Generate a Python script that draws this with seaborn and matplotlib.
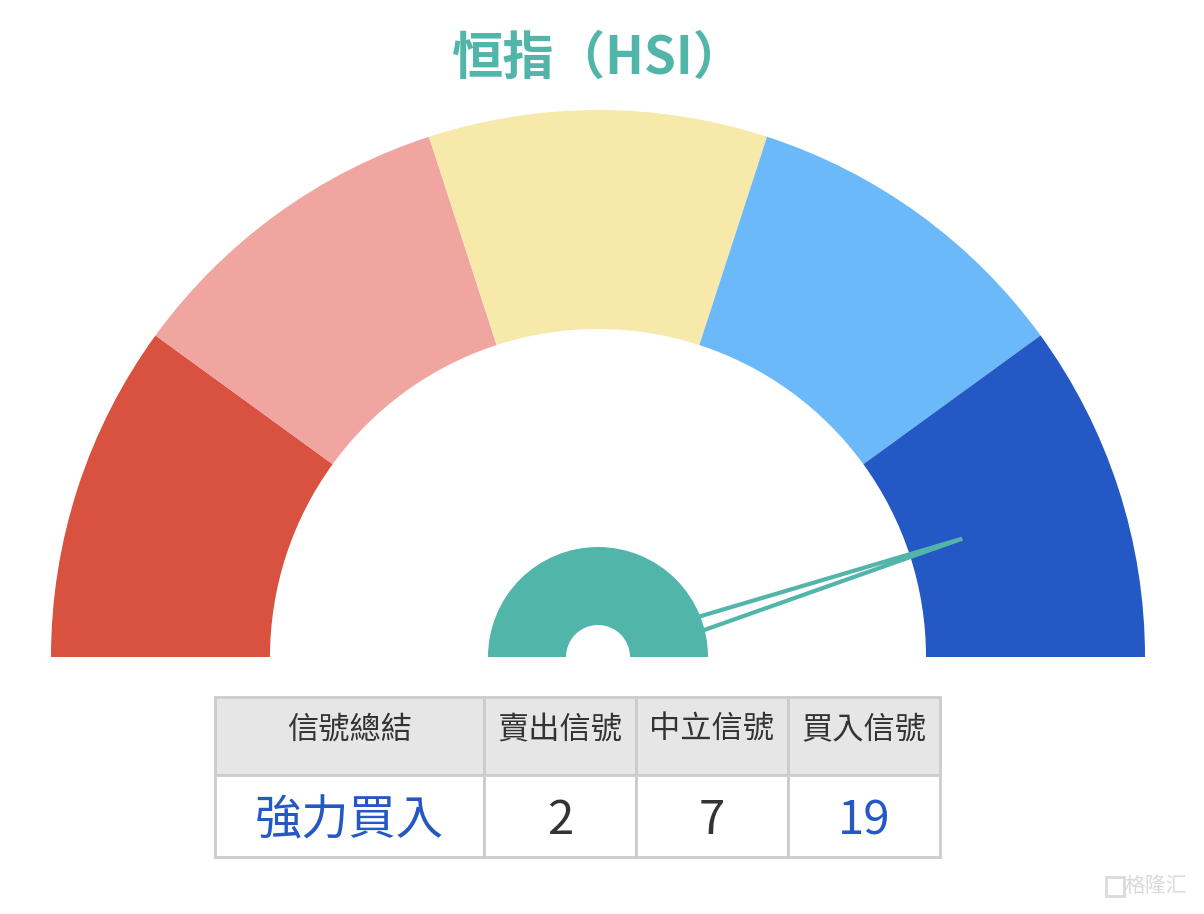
"""
Gauge chart of HSI technical signal summary with a small table below
"""
import matplotlib.pyplot as plt
import numpy as np
import seaborn as sns
from matplotlib.patches import Wedge, Polygon, Rectangle

# ---- data ----
title = "恒指（HSI）"
zone_colors = ["#D9513F", "#F0A5A1", "#F7E9AA", "#6BB9F8", "#2458C4"]
gauge_min, gauge_max = 0, 100
gauge_value = 90

table_header = ["信號總結", "賣出信號", "中立信號", "買入信號"]
table_row = ["強力買入", "2", "7", "19"]
row_colors = ["#2458C4", "#333333", "#333333", "#2458C4"]

teal = "#52B5A9"

sns.set_theme(style="white")
plt.rcParams['font.family'] = ['Noto Sans CJK TC', 'DejaVu Sans']

fig = plt.figure(figsize=(12.04, 9.14), dpi=100)
ax = fig.add_axes([0, 0, 1, 1])
ax.set_xlim(0, 1204)
ax.set_ylim(914, 0)
ax.set_aspect('equal')
ax.axis('off')

# gauge geometry (pixels, y downward so angles are flipped)
cx, cy = 598, 657
r_out, r_in = 547, 328

n = len(zone_colors)
edges = np.linspace(180, 0, n + 1)
for i, col in enumerate(zone_colors):
	a1, a2 = edges[i + 1], edges[i]
	# y-axis is inverted: angle theta in screen maps to -theta
	ax.add_patch(Wedge((cx, cy), r_out, -a2, -a1, width=r_out - r_in,
	                   facecolor=col, edgecolor='none'))

# needle
frac = (gauge_value - gauge_min) / (gauge_max - gauge_min)
ang = np.deg2rad(180 - 180 * frac)
needle_len = 383
half_w = 10
tip = (cx + needle_len * np.cos(ang), cy - needle_len * np.sin(ang))
px, py = np.sin(ang), np.cos(ang)
base1 = (cx + half_w * px, cy + half_w * py)
base2 = (cx - half_w * px, cy - half_w * py)
ax.add_patch(Polygon([base1, tip, base2], closed=True, facecolor='white',
                     edgecolor=teal, linewidth=3, joinstyle='miter', zorder=2))

# hub (ring with white centre)
ax.add_patch(Wedge((cx, cy), 110, -180, 0, facecolor=teal, edgecolor='none', zorder=3))
ax.add_patch(Wedge((cx, cy), 32, -180, 0, facecolor='white', edgecolor='none', zorder=4))
# clean strip below the centre line
ax.add_patch(Rectangle((cx - 120, cy), 240, 20, facecolor='white', edgecolor='none', zorder=4))

# title
ax.text(cx, 58, title, ha='center', va='center', fontsize=37, fontweight='bold', color=teal)

# table
col_x = [215, 484, 636, 788, 940]
row_y = [697, 775, 857]
border = "#CCCCCC"
for j in range(4):
	ax.add_patch(Rectangle((col_x[j], row_y[0]), col_x[j + 1] - col_x[j], row_y[1] - row_y[0],
	                       facecolor="#E6E6E6", edgecolor=border, linewidth=2, zorder=5))
	ax.add_patch(Rectangle((col_x[j], row_y[1]), col_x[j + 1] - col_x[j], row_y[2] - row_y[1],
	                       facecolor="white", edgecolor=border, linewidth=2, zorder=5))
	xm = (col_x[j] + col_x[j + 1]) / 2
	ax.text(xm, (row_y[0] + row_y[1]) / 2 - 6, table_header[j], ha='center', va='center',
	        fontsize=22.5, color="#333333", zorder=6)
	ax.text(xm, (row_y[1] + row_y[2]) / 2 + 5, table_row[j], ha='center', va='center',
	        fontsize=34, color=row_colors[j], zorder=6)

# watermark
ax.text(1156, 886, "格隆汇", ha='center', va='center', fontsize=15, color="#DADADA")
ax.add_patch(Rectangle((1106, 877), 18, 19, facecolor='none', edgecolor="#DADADA", linewidth=2))

fig.savefig("out.png", dpi=100)
